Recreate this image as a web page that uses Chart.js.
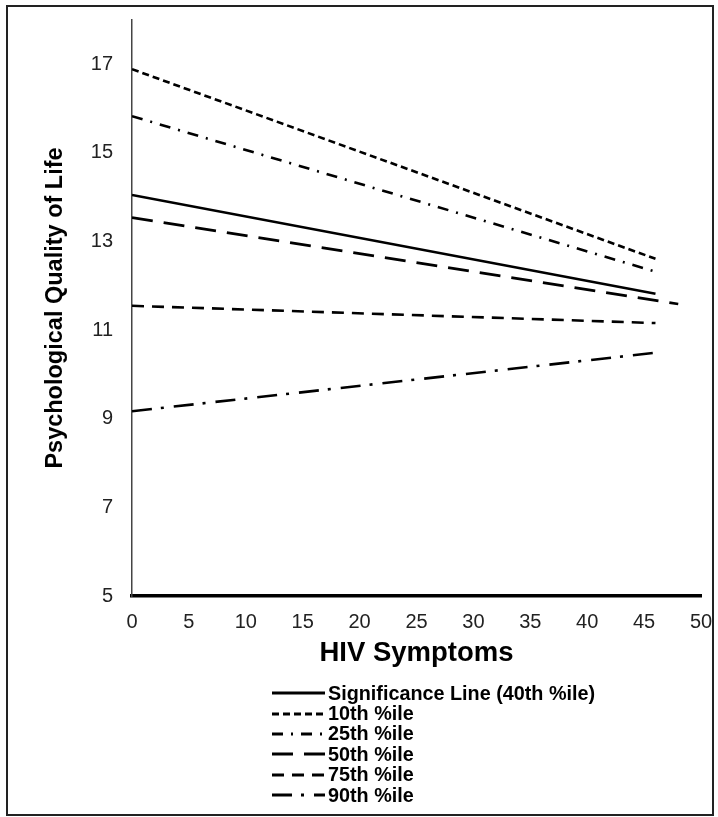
<!DOCTYPE html>
<html lang="en">

<head>
    <meta charset="UTF-8">
    <title>Psychological Quality of Life by HIV Symptoms</title>
    <script src="https://cdn.jsdelivr.net/npm/chart.js"></script>
    <style>
        body { margin: 0; background: #fff; font-family: "Liberation Sans", Arial, sans-serif; }
        #wrap { position: relative; width: 718px; height: 817px; }
        #frame { position: absolute; left: 6px; top: 5px; width: 708px; height: 811px;
                 border: 2px solid #222; box-sizing: border-box; pointer-events: none; }
        #legend { position: absolute; left: 272px; top: 683px; }
        .row { display: flex; align-items: center; height: 20.4px; }
        .row span { margin-left: 3px; font-weight: bold; font-size: 19.8px; color: #000; }
    </style>
</head>

<body>
    <div id="wrap">
        <canvas id="qolChart" width="718" height="817"></canvas>
        <div id="legend"></div>
        <div id="frame"></div>
    </div>

    <script>
        // data
        const seriesNames = ['Significance Line (40th %ile)', '10th %ile', '25th %ile', '50th %ile', '75th %ile', '90th %ile'];
        const xStart = [0, 0, 0, 0, 0, 0];
        const xEnd = [46, 46, 46, 48, 46, 46];
        const yStart = [14.05, 16.89, 15.83, 13.54, 11.55, 9.17];
        const yEnd = [11.82, 12.61, 12.32, 11.59, 11.16, 10.49];
        const yTicks = [5, 7, 9, 11, 13, 15, 17];

        // line styles per series
        const dashes = [[], [7, 4], [11, 8, 2, 8], [21, 11], [12, 8], [20, 9, 3, 10]];

        const htmlLegend = {
            id: 'htmlLegend',
            afterUpdate(chart) {
                const box = document.getElementById('legend');
                box.innerHTML = '';
                const items = chart.options.plugins.legend.labels.generateLabels(chart);
                items.forEach(item => {
                    const row = document.createElement('div');
                    row.className = 'row';
                    const c = document.createElement('canvas');
                    c.width = 53; c.height = 8;
                    const g = c.getContext('2d');
                    g.strokeStyle = '#000';
                    g.lineWidth = 3;
                    g.setLineDash(item.lineDash || []);
                    g.beginPath();
                    g.moveTo(0, 4); g.lineTo(53, 4);
                    g.stroke();
                    const t = document.createElement('span');
                    t.textContent = item.text;
                    row.appendChild(c);
                    row.appendChild(t);
                    box.appendChild(row);
                });
            }
        };

        const datasets = seriesNames.map((name, i) => ({
            label: name,
            data: [{ x: xStart[i], y: yStart[i] }, { x: xEnd[i], y: yEnd[i] }],
            borderColor: '#000',
            backgroundColor: '#000',
            borderWidth: 2.6,
            borderDash: dashes[i],
            pointRadius: 0,
            fill: false
        }));

        const tickFont = { family: '"Liberation Sans", Arial, sans-serif', size: 20 };

        new Chart(document.getElementById('qolChart').getContext('2d'), {
            type: 'line',
            data: { datasets },
            plugins: [htmlLegend],
            options: {
                responsive: false,
                animation: false,
                devicePixelRatio: 1,
                layout: { padding: { top: 20, right: 17, bottom: 147, left: 0 } },
                plugins: {
                    legend: { display: false },
                    tooltip: { enabled: false }
                },
                scales: {
                    x: {
                        type: 'linear',
                        min: 0,
                        max: 50,
                        grid: { display: false, drawTicks: false },
                        border: { display: true, color: '#000', width: 3.5 },
                        ticks: { stepSize: 5, padding: 14, color: '#222', font: tickFont, maxRotation: 0 },
                        title: {
                            display: true,
                            text: 'HIV Symptoms',
                            color: '#000',
                            padding: { top: 0, bottom: 0 },
                            font: { family: '"Liberation Sans", Arial, sans-serif', size: 27.5, weight: 'bold' }
                        },
                        afterFit: s => { s.height = 74; s.paddingLeft = 0; s.paddingRight = 0; }
                    },
                    y: {
                        min: 5,
                        max: 18,
                        grid: { display: false, drawTicks: false },
                        border: { display: true, color: '#444', width: 1.5 },
                        ticks: { padding: 19, color: '#222', font: tickFont },
                        afterBuildTicks: s => { s.ticks = yTicks.map(v => ({ value: v })); },
                        title: {
                            display: true,
                            text: 'Psychological Quality of Life',
                            color: '#000',
                            padding: { top: 41, bottom: 0 },
                            font: { family: '"Liberation Sans", Arial, sans-serif', size: 23.5, weight: 'bold' }
                        },
                        afterFit: s => { s.width = 132; s.paddingTop = 0; s.paddingBottom = 0; }
                    }
                }
            }
        });
    </script>
</body>

</html>
